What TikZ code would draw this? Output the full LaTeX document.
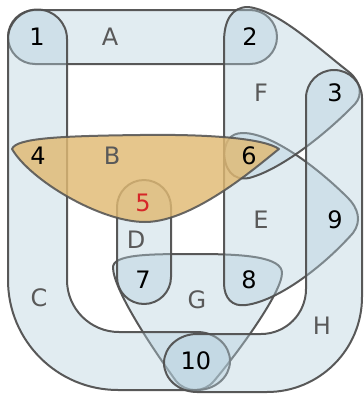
\documentclass[tikz,border=0pt]{standalone}
\usepackage{fontspec}
\setmainfont{DejaVu Sans}
\definecolor{hyperFill}{HTML}{B4CFDC}
\definecolor{hyperLine}{HTML}{505050}
\definecolor{hyperOrange}{HTML}{E0B973}
\definecolor{hyperRed}{HTML}{D62728}
\definecolor{hyperGray}{HTML}{595959}
\tikzset{
  hyper diagram/.style={
    line width=2pt, line join=round,
    every node/.style={font=\fontsize{24}{28}\selectfont,
      inner sep=0pt, outer sep=0pt}
  },
  hyper edge/.style={draw=hyperLine, draw opacity=0.95,
    fill=hyperFill, fill opacity=0.4},
  hyper hilite/.style={draw=hyperLine, draw opacity=0.85,
    fill=hyperOrange, fill opacity=0.82},
  hyper vertex/.style={text=black},
  hyper name/.style={text=hyperGray}
}

\begin{document}
\begin{tikzpicture}[hyper diagram,x=1pt,y=-1pt]
    \useasboundingbox (0,0) rectangle (364,394);
    % edge G
    \path[hyper edge] (113,268) .. controls (112,254) and (150,254) .. (197,254)
      .. controls (245,254) and (282,257) .. (282,273)
      .. controls (282,292) and (240,350) .. (214,381)
      .. controls (204,393) and (186,393) .. (176,381)
      .. controls (150,345) and (114,290) .. (113,268) -- cycle;
    % edge A
    \path[hyper edge,rounded corners=27pt] (8,10) rectangle (277,64);
    % edge C
    \path[hyper edge] (8,39) arc[start angle=180,end angle=360,radius=29.5]
      -- (67,280) arc[start angle=180,end angle=90,radius=52]
      -- (197,332) arc[start angle=-90,end angle=90,x radius=33,y radius=29]
      -- (118,390) arc[start angle=90,end angle=180,radius=110] -- cycle;
    % edge D
    \path[hyper edge,rounded corners=27pt] (117,180) rectangle (171,304);
    % edge E
    \path[hyper edge] (224,160) .. controls (224,141) and (230,133) .. (243,133)
      .. controls (272,133) and (318,168) .. (348,198)
      .. controls (358,208) and (362,221) .. (353,233)
      .. controls (322,268) and (277,301) .. (246,305)
      .. controls (232,307) and (224,298) .. (224,283) -- cycle;
    % edge F
    \path[hyper edge] (224,150) -- (224,42) .. controls (224,20) and (232,7) .. (248,7)
      .. controls (278,10) and (318,48) .. (349,72)
      .. controls (361,82) and (363,95) .. (355,104)
      .. controls (325,135) and (280,170) .. (249,178)
      .. controls (233,181) and (224,170) .. (224,150) -- cycle;
    % edge H
    \path[hyper edge] (306,98) arc[start angle=180,end angle=360,radius=28]
      -- (362,297) arc[start angle=0,end angle=90,radius=95]
      -- (197,392) arc[start angle=90,end angle=270,x radius=33,y radius=29]
      -- (261,334) arc[start angle=90,end angle=0,radius=45] -- cycle;
    % edge B (highlighted)
    \path[hyper hilite] (12,149) .. controls (16,138) and (60,136) .. (140,135)
      .. controls (215,134) and (265,139) .. (279,149)
      .. controls (262,162) and (195,222) .. (145,222)
      .. controls (100,222) and (30,180) .. (12,149) -- cycle;
    % vertices
    \node[hyper vertex] (v1) at (37,37) {1};
    \node[hyper vertex] (v2) at (250,37) {2};
    \node[hyper vertex] (v3) at (335,93) {3};
    \node[hyper vertex] (v4) at (38,156) {4};
    \node[hyper vertex,text=hyperRed] (v5) at (143,203) {5};
    \node[hyper vertex] (v6) at (249,156) {6};
    \node[hyper vertex] (v7) at (143,280) {7};
    \node[hyper vertex] (v8) at (249,280) {8};
    \node[hyper vertex] (v9) at (335,220) {9};
    \node[hyper vertex] (v10) at (196,361) {10};
    % edge names
    \node[hyper name] (eA) at (110,37) {A};
    \node[hyper name] (eB) at (112,156) {B};
    \node[hyper name] (eC) at (39,298) {C};
    \node[hyper name] (eD) at (136,240) {D};
    \node[hyper name] (eE) at (261,220) {E};
    \node[hyper name] (eF) at (261,93) {F};
    \node[hyper name] (eG) at (197,300) {G};
    \node[hyper name] (eH) at (322,326) {H};
\end{tikzpicture}
\end{document}
